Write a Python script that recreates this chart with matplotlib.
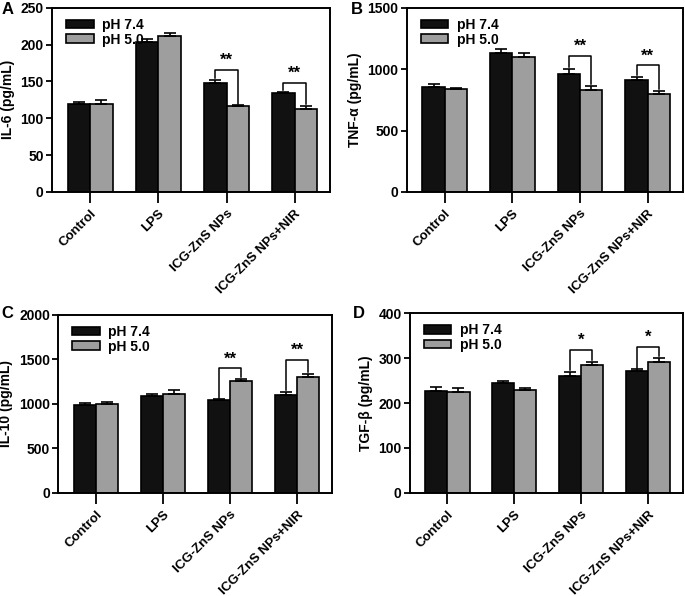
import numpy as np
import matplotlib
matplotlib.use("Agg")
import matplotlib.pyplot as plt

plt.rcParams['font.family'] = ['Liberation Sans', 'DejaVu Sans']
plt.rcParams['font.weight'] = 'bold'

groups = ["Control", "LPS", "ICG-ZnS NPs", "ICG-ZnS NPs+NIR"]

# IL-6
il6_74 = [119, 204, 148, 134]
il6_74_err = [3, 3, 4, 1.5]
il6_50 = [119, 212, 116, 113]
il6_50_err = [6, 4, 1.5, 4]

# TNF-a
tnf_74 = [855, 1135, 960, 915]
tnf_74_err = [20, 25, 40, 25]
tnf_50 = [835, 1095, 830, 795]
tnf_50_err = [15, 35, 30, 30]

# IL-10
il10_74 = [990, 1085, 1040, 1100]
il10_74_err = [20, 30, 10, 35]
il10_50 = [1000, 1110, 1260, 1300]
il10_50_err = [25, 45, 20, 40]

# TGF-b
tgf_74 = [226, 244, 260, 272]
tgf_74_err = [9, 5, 9, 3]
tgf_50 = [224, 229, 285, 291]
tgf_50_err = [10, 4, 6, 10]

# label, ylabel, data..., ymax, step, (group, bracket top, stars), axes rect, label pos (px)
panels = [
    ("A", "IL-6 (pg/mL)", il6_74, il6_74_err, il6_50, il6_50_err, 250, 50,
     [(2, 166, "**"), (3, 148, "**")], [0.076, 0.678, 0.406, 0.309], (2, 9)),
    ("B", "TNF-α (pg/mL)", tnf_74, tnf_74_err, tnf_50, tnf_50_err, 1500, 500,
     [(2, 1110, "**"), (3, 1030, "**")], [0.594, 0.678, 0.403, 0.309], (351, 9)),
    ("C", "IL-10 (pg/mL)", il10_74, il10_74_err, il10_50, il10_50_err, 2000, 500,
     [(2, 1400, "**"), (3, 1495, "**")], [0.085, 0.173, 0.400, 0.2985], (1, 314)),
    ("D", "TGF-β (pg/mL)", tgf_74, tgf_74_err, tgf_50, tgf_50_err, 400, 100,
     [(2, 319, "*"), (3, 325, "*")], [0.5985, 0.173, 0.3985, 0.3015], (353, 313)),
]

W, H = 685, 596
fig = plt.figure(figsize=(W / 100, H / 100), dpi=100)
x = np.arange(len(groups))
w = 0.33

for label, ylab, v1, e1, v2, e2, ymax, step, sig, pos, lpos in panels:
    ax = fig.add_axes(pos)
    ax.bar(x - w / 2, v1, w, color="#111111", edgecolor="black", linewidth=1.2,
           label="pH 7.4", zorder=2)
    ax.bar(x + w / 2, v2, w, color="#9e9e9e", edgecolor="black", linewidth=1.2,
           label="pH 5.0", zorder=2)
    ax.errorbar(x - w / 2, v1, yerr=[np.zeros(4), e1], fmt="none", ecolor="black",
                elinewidth=1.2, capsize=4, capthick=1.2, zorder=3)
    ax.errorbar(x + w / 2, v2, yerr=[np.zeros(4), e2], fmt="none", ecolor="black",
                elinewidth=1.2, capsize=4, capthick=1.2, zorder=3)

    # significance brackets
    for gi, top, stars in sig:
        lo1 = v1[gi] + e1[gi] + ymax * 0.01
        lo2 = v2[gi] + e2[gi] + ymax * 0.01
        ax.plot([x[gi] - w / 2, x[gi] - w / 2, x[gi] + w / 2, x[gi] + w / 2],
                [lo1, top, top, lo2], color="black", lw=1.1, zorder=4)
        ax.text(x[gi], top + ymax * 0.01, stars, ha="center", va="bottom",
                fontsize=12, fontweight="bold")

    ax.set_xlim(-0.56, 3.52)
    ax.set_ylim(0, ymax)
    ax.set_yticks(np.arange(0, ymax + 1, step))
    ax.set_xticks(x)
    ax.set_xticklabels(groups, rotation=45, ha="right", rotation_mode="anchor",
                       fontsize=9.5, fontweight="bold")
    ax.tick_params(axis="y", labelsize=10, width=1.3, length=4, pad=2)
    ax.tick_params(axis="x", width=1.3, length=8)
    for lbl in ax.get_yticklabels():
        lbl.set_fontweight("bold")
    for sp in ax.spines.values():
        sp.set_linewidth(1.4)
    ax.set_ylabel(ylab, fontsize=10, fontweight="bold", labelpad=4)
    ax.legend(loc="upper left", bbox_to_anchor=(0.04, 0.96), frameon=False,
              handlelength=2.0, handleheight=0.6, borderaxespad=0.0,
              borderpad=0.2, labelspacing=0.05, handletextpad=0.6,
              prop={"weight": "bold", "size": 10})
    fig.text(lpos[0] / W, 1 - lpos[1] / H, label, fontsize=12,
             fontweight="bold", ha="left", va="center")

fig.savefig("out.png", dpi=100)
